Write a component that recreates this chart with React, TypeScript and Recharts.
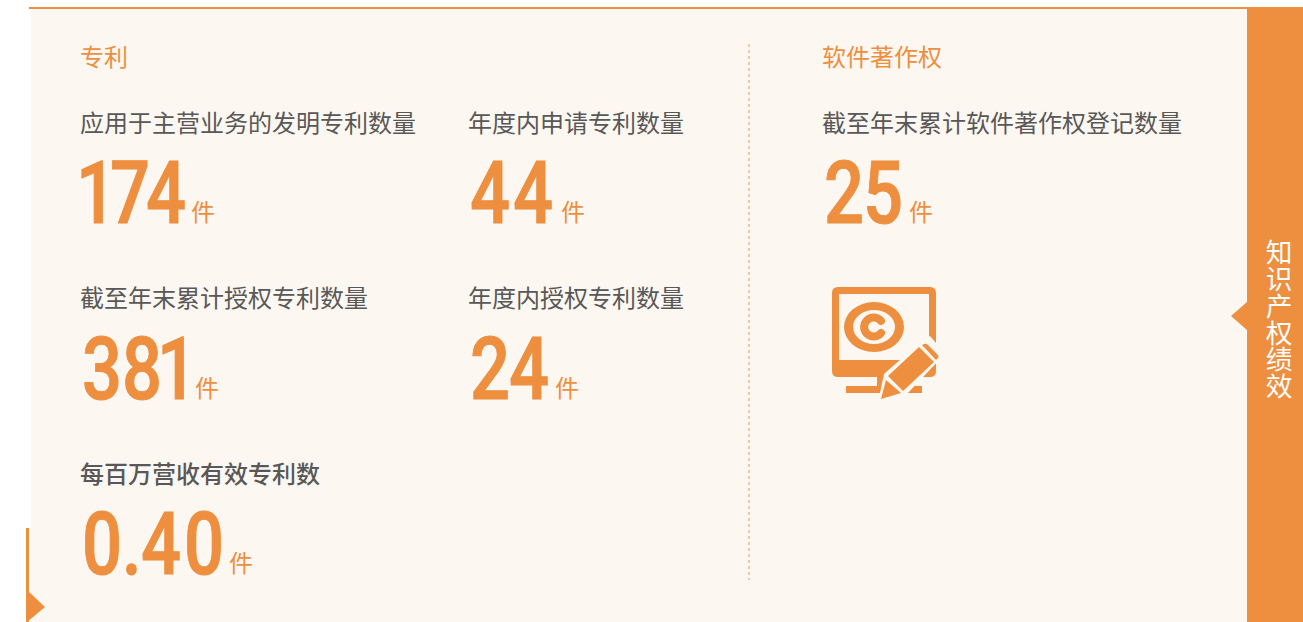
import { ScatterChart, Scatter, XAxis, YAxis } from "recharts";

const ORANGE = "#ed8f3f";
const PANEL = "#fcf7f1";
const GREY = "#595757";
const CJK = '"Noto Sans CJK SC", sans-serif';

// patents block
const patentNames = [
  "应用于主营业务的发明专利数量",
  "年度内申请专利数量",
  "截至年末累计授权专利数量",
  "年度内授权专利数量",
  "每百万营收有效专利数",
];
const patentValues = ["174", "44", "381", "24", "0.40"];
const patentColumns = ["left", "right", "left", "right", "left"];
const patentRows = ["r1", "r1", "r2", "r2", "r3"];

// software copyright block
const softwareNames = ["截至年末累计软件著作权登记数量"];
const softwareValues = ["25"];

const unit = "件";
const patentTitle = "专利";
const softwareTitle = "软件著作权";
const sideTitle = "知识产权绩效";

const patentData = patentNames.map((name, i) => ({
  name,
  value: patentValues[i],
  col: patentColumns[i],
  row: patentRows[i],
}));
const softwareData = softwareNames.map((name, i) => ({
  name,
  value: softwareValues[i],
  col: "only",
  row: "r1",
}));

// the reference uses a DIN style face, so Roboto is squeezed and placed glyph by glyph
const SQUEEZE = 0.8;
const ADVANCE: Record<string, number> = {
  "0": 40, "1": 28, "2": 39, "3": 40, "4": 43, "5": 39, "7": 36, "8": 41, ".": 19,
};
// where the unit sits after each number
const UNIT_OFFSET: Record<string, number> = {
  "174": 111, "44": 93, "381": 115, "24": 87, "25": 87, "0.40": 149,
};

function Metric(props: any) {
  const { cx, cy, payload } = props;
  const chars: string[] = payload.value.split("");
  let run = 2;
  const xs = chars.map((c) => {
    const at = run;
    run += ADVANCE[c];
    return ((c === "1" ? at - 6 : at) / SQUEEZE).toFixed(1);
  });
  return (
    <g>
      <text x={cx} y={cy - 2} dominantBaseline="central" fontFamily={CJK} fontSize={24}
        fontWeight={payload.row === "r3" ? 500 : 400} fill={GREY}>
        {payload.name}
      </text>
      <text transform={`translate(${cx},${cy + 100}) scale(${SQUEEZE},1)`} x={xs.join(" ")} y={0}
        fontFamily="Roboto" fontWeight={500} fontSize={88} fill={ORANGE} stroke={ORANGE} strokeWidth={1}>
        {payload.value}
      </text>
      <text x={cx + UNIT_OFFSET[payload.value]} y={cy + 98} fontFamily={CJK} fontSize={24} fill={ORANGE} fontWeight={400}>
        {unit}
      </text>
    </g>
  );
}

function Backdrop() {
  return (
    <svg width={1303} height={622} style={{ position: "absolute", left: 0, top: 0 }}>
      <rect x={31} y={9} width={1216} height={613} fill={PANEL} />
      <rect x={29} y={7} width={1218} height={2} fill={ORANGE} />
      <rect x={1247} y={7} width={56} height={615} fill={ORANGE} />
      <polygon points="1247,302 1231,316 1247,330" fill={ORANGE} />
      <rect x={26} y={528} width={3} height={94} fill={ORANGE} />
      <polygon points="27,590 45,607 27,622" fill={ORANGE} />
      <line x1={749} y1={44} x2={749} y2={580} stroke="#f5c7a0" strokeWidth={2} strokeDasharray="3 3" />
      <text x={80} y={66} fontFamily={CJK} fontSize={24} fontWeight={400} fill={ORANGE}>{patentTitle}</text>
      <text x={822} y={66} fontFamily={CJK} fontSize={24} fontWeight={400} fill={ORANGE}>{softwareTitle}</text>
      <text x={1279} y={239} fontFamily={CJK} fontSize={26.7} fontWeight={400} fill="#fff"
        style={{ writingMode: "vertical-rl" }}>
        {sideTitle}
      </text>
      {/* monitor with copyright mark and pen */}
      <path fillRule="evenodd" fill={ORANGE}
        d="M838,287 H930 Q936,287 936,293 V371 Q936,377 930,377 H838 Q832,377 832,371 V293 Q832,287 838,287 Z M839,294 V360 H929 V294 Z" />
      <rect x={877} y={377} width={24} height={10} fill={ORANGE} />
      <rect x={846} y={386} width={76} height={7} fill={ORANGE} />
      <path fillRule="evenodd" fill={ORANGE}
        d="M844,327 a30,25 0 1,0 60,0 a30,25 0 1,0 -60,0 Z M853,327 a21,17 0 1,1 42,0 a21,17 0 1,1 -42,0 Z" />
      <path d="M881,321 A9.5,9.5 0 1,0 881,333" fill="none" stroke={ORANGE} strokeWidth={8} strokeLinecap="round" />
      <polygon points="878,402 884,374 920,342 930,336 942,350 942,357 906,395" fill={PANEL} />
      <polygon points="881,399 886,380 901,393" fill={ORANGE} />
      <polygon points="888,376 919,347 934,362 903,391" fill={ORANGE} />
      <path d="M922,345 L924,344 Q926,343 928,345 L938,355 Q939,357 938,358 L936,360 Z" fill={ORANGE} />
    </svg>
  );
}

export default function App() {
  return (
    <div style={{ position: "absolute", left: 0, top: 0, width: 1303, height: 622, overflow: "hidden", background: "#fff" }}>
      <Backdrop />
      <div style={{ position: "absolute", left: 0, top: 0 }}>
        <ScatterChart width={748} height={622} data={patentData}
          margin={{ left: 80, right: 280, top: 123, bottom: 148 }} style={{ overflow: "visible" }}>
          <XAxis hide type="category" dataKey="col" scale="point" allowDuplicatedCategory={false} padding={{ left: 0, right: 0 }} />
          <YAxis hide type="category" dataKey="row" scale="point" reversed allowDuplicatedCategory={false} padding={{ top: 0, bottom: 0 }} width={0} />
          <Scatter data={patentData} shape={Metric} isAnimationActive={false} />
        </ScatterChart>
      </div>
      <div style={{ position: "absolute", left: 748, top: 0 }}>
        <ScatterChart width={500} height={622} data={softwareData}
          margin={{ left: 50, right: 402, top: 100, bottom: 476 }} style={{ overflow: "visible" }}>
          <XAxis hide type="category" dataKey="col" scale="point" allowDuplicatedCategory={false} />
          <YAxis hide type="category" dataKey="row" scale="point" allowDuplicatedCategory={false} width={0} />
          <Scatter data={softwareData} shape={Metric} isAnimationActive={false} />
        </ScatterChart>
      </div>
    </div>
  );
}
